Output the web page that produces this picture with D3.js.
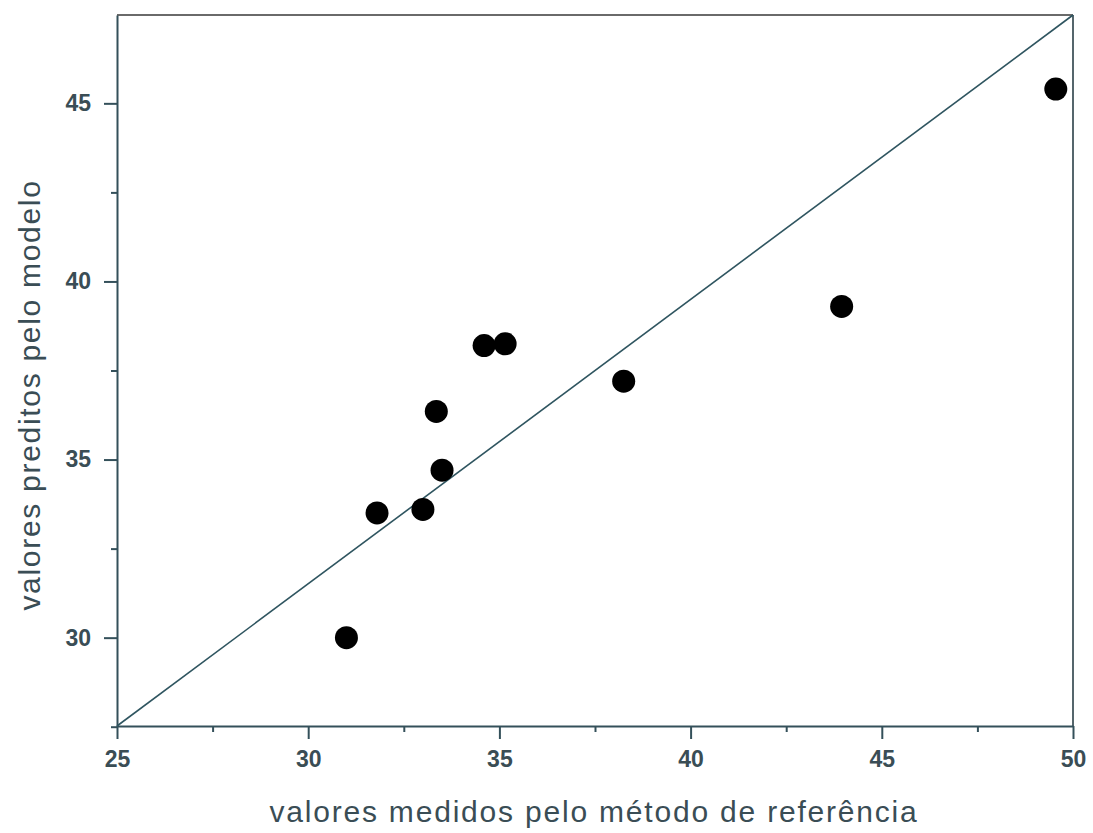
<!DOCTYPE html>
<html>
<head>
<meta charset="utf-8">
<script src="https://cdn.jsdelivr.net/npm/d3@7"></script>
<style>
body { margin: 0; background: #fff; }
text { font-family: "Liberation Sans", Arial, sans-serif; }
</style>
</head>
<body>
<div id="chart"></div>
<script>
// measured (reference method) vs predicted (model)
var medidos  = [31.0, 31.8, 33.0, 33.5, 33.35, 34.6, 35.15, 38.25, 43.95, 49.55];
var preditos = [30.0, 33.5, 33.6, 34.7, 36.35, 38.2, 38.25, 37.2, 39.3, 45.4];
var xTicks = [25, 30, 35, 40, 45, 50];
var yTicks = [30, 35, 40, 45];
var xDomain = [25, 50];
var yDomain = [27.52, 47.48];
var xTitle = "valores medidos pelo método de referência";
var yTitle = "valores preditos pelo modelo";

var width = 1093, height = 833;
var margin = {top: 15, right: 20, bottom: 107, left: 117};

var svg = d3.select("#chart").append("svg")
    .attr("width", width)
    .attr("height", height);

var x = d3.scaleLinear()
    .domain(xDomain)
    .range([margin.left, width - margin.right]);

var y = d3.scaleLinear()
    .domain(yDomain)
    .range([height - margin.bottom, margin.top]);

var axisColor = "#34505a";
var labelColor = "#3a4d55";

// frame: top and right
svg.append("line")
    .attr("x1", x(xDomain[0])).attr("x2", x(xDomain[1]))
    .attr("y1", y(yDomain[1])).attr("y2", y(yDomain[1]))
    .attr("stroke", "#6a6a6a").attr("stroke-width", 2);
svg.append("line")
    .attr("x1", x(xDomain[1])).attr("x2", x(xDomain[1]))
    .attr("y1", y(yDomain[1])).attr("y2", y(yDomain[0]))
    .attr("stroke", "#55666c").attr("stroke-width", 2);

// minor ticks
var xMinor = d3.range(27.5, 50, 5);
var yMinor = d3.range(27.5, 47.5, 5);
svg.append("g")
    .attr("transform", "translate(0," + y(yDomain[0]) + ")")
    .call(d3.axisBottom(x).tickValues(xMinor).tickSize(6).tickFormat(""))
    .call(g => g.select(".domain").remove())
    .selectAll("line").attr("stroke", axisColor).attr("stroke-width", 2);
svg.append("g")
    .attr("transform", "translate(" + x(xDomain[0]) + ",0)")
    .call(d3.axisLeft(y).tickValues(yMinor).tickSize(6).tickFormat(""))
    .call(g => g.select(".domain").remove())
    .selectAll("line").attr("stroke", axisColor).attr("stroke-width", 2);

// x axis
var gx = svg.append("g")
    .attr("transform", "translate(0," + y(yDomain[0]) + ")")
    .call(d3.axisBottom(x).tickValues(xTicks).tickSize(13).tickSizeOuter(0).tickPadding(12));
gx.select(".domain").attr("stroke", axisColor).attr("stroke-width", 2);
gx.selectAll(".tick line").attr("stroke", axisColor).attr("stroke-width", 2);
gx.selectAll("text")
    .attr("fill", labelColor)
    .style("font-size", "23px")
    .style("font-weight", "bold");

// y axis
var gy = svg.append("g")
    .attr("transform", "translate(" + x(xDomain[0]) + ",0)")
    .call(d3.axisLeft(y).tickValues(yTicks).tickSize(13).tickSizeOuter(0).tickPadding(13));
gy.select(".domain").attr("stroke", axisColor).attr("stroke-width", 2);
gy.selectAll(".tick line").attr("stroke", axisColor).attr("stroke-width", 2);
gy.selectAll("text")
    .attr("fill", labelColor)
    .style("font-size", "23px")
    .style("font-weight", "bold");

// diagonal reference line
svg.append("line")
    .attr("x1", x(xDomain[0])).attr("y1", y(yDomain[0]))
    .attr("x2", x(xDomain[1])).attr("y2", y(yDomain[1]))
    .attr("stroke", "#2f5560")
    .attr("stroke-width", 1.6);

// points
svg.selectAll("circle.pt")
    .data(medidos)
    .join("circle")
    .attr("class", "pt")
    .attr("cx", d => x(d))
    .attr("cy", (d, i) => y(preditos[i]))
    .attr("r", 11.5)
    .attr("fill", "#000");

// axis titles
svg.append("text")
    .attr("x", 593 + 1)
    .attr("y", 822)
    .attr("text-anchor", "middle")
    .attr("fill", labelColor)
    .style("font-size", "30px")
    .style("letter-spacing", "1.8px")
    .text(xTitle);

svg.append("text")
    .attr("transform", "translate(40,395) rotate(-90)")
    .attr("text-anchor", "middle")
    .attr("fill", labelColor)
    .style("font-size", "30px")
    .style("letter-spacing", "1.7px")
    .text(yTitle);
</script>
</body>
</html>
